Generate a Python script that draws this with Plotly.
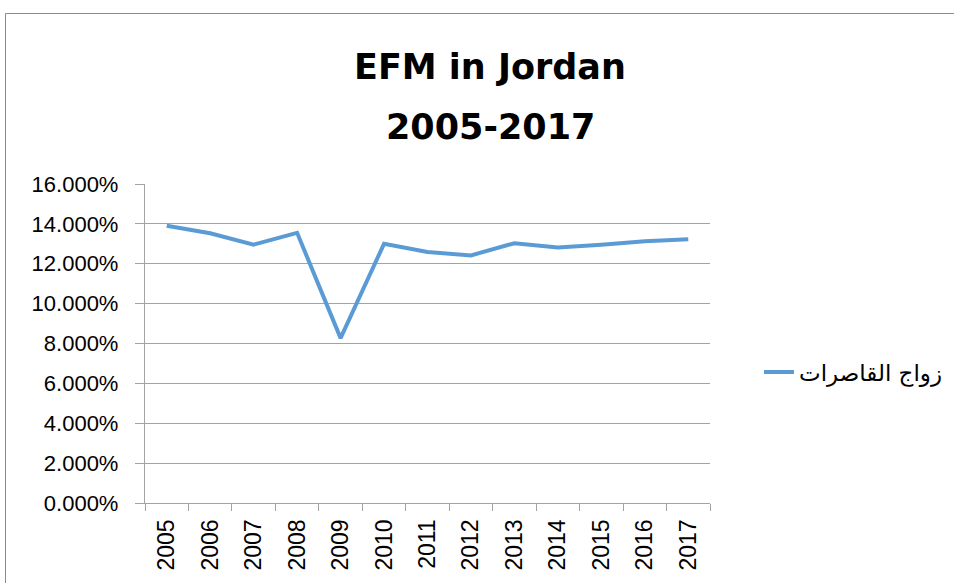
import plotly.graph_objects as go

years = ["2005", "2006", "2007", "2008", "2009", "2010", "2011",
         "2012", "2013", "2014", "2015", "2016", "2017"]
efm_rate = [13.91, 13.53, 12.96, 13.55, 8.27, 13.0, 12.59,
            12.42, 13.03, 12.81, 12.95, 13.13, 13.23]
series_name = "زواج القاصرات"
title_line1 = "EFM in Jordan"
title_line2 = "2005-2017"

W, H = 954, 583
L, R, T, B = 145, 244, 184, 80
pw, ph = W - L - R, H - T - B

def px_x(x):
    return (x - L) / pw

def px_y(y):
    return (H - B - y) / ph

grid_col = "#A3A3A3"

fig = go.Figure()
fig.add_trace(go.Scatter(
    x=years, y=efm_rate, mode="lines", name=series_name,
    line=dict(color="#5B9BD5", width=4),
))

fig.update_layout(
    width=W, height=H,
    margin=dict(l=L, r=R, t=T, b=B, autoexpand=False),
    paper_bgcolor="white", plot_bgcolor="white",
    showlegend=True,
    legend=dict(x=px_x(759), y=px_y(372), xanchor="left", yanchor="middle",
                font=dict(family="DejaVu Sans, Liberation Sans", size=23, color="#000"),
                bgcolor="rgba(0,0,0,0)"),
    xaxis=dict(type="category", range=[-0.5, 12.5], showgrid=False,
               showline=True, linecolor=grid_col, linewidth=1.3,
               ticks="outside", tickson="boundaries", ticklen=7,
               tickcolor=grid_col, tickwidth=1.3, tickangle=-90,
               tickfont=dict(family="Liberation Sans, Arial", size=23, color="#000"),
               ticklabelstandoff=6),
    yaxis=dict(range=[0, 16], dtick=2, tick0=0, showgrid=True,
               gridcolor=grid_col, gridwidth=1.3,
               showline=True, linecolor=grid_col, linewidth=1.3,
               ticks="outside", ticklen=9, tickcolor=grid_col, tickwidth=1.3,
               tickformat=".3f", ticksuffix="%",
               tickfont=dict(family="Liberation Sans, Arial", size=22, color="#000"),
               ticklabelstandoff=12, zeroline=False),
)

fig.add_annotation(x=px_x(490), y=px_y(67), xref="paper", yref="paper",
                   text="<b>" + title_line1 + "</b>", showarrow=False,
                   xanchor="center", yanchor="middle",
                   font=dict(family="DejaVu Sans", size=35, color="#000"))
fig.add_annotation(x=px_x(490), y=px_y(127), xref="paper", yref="paper",
                   text="<b>" + title_line2 + "</b>", showarrow=False,
                   xanchor="center", yanchor="middle",
                   font=dict(family="DejaVu Sans", size=35, color="#000"))

fig.add_shape(type="rect", xref="paper", yref="paper",
              x0=px_x(5.5), y0=px_y(700), x1=px_x(1100), y1=px_y(13.5),
              line=dict(color="#8C8C8C", width=1), layer="below")

fig.write_html("out.html", config={"displayModeBar": False},
               post_script="document.body.style.margin='0';document.body.style.overflow='hidden';")
